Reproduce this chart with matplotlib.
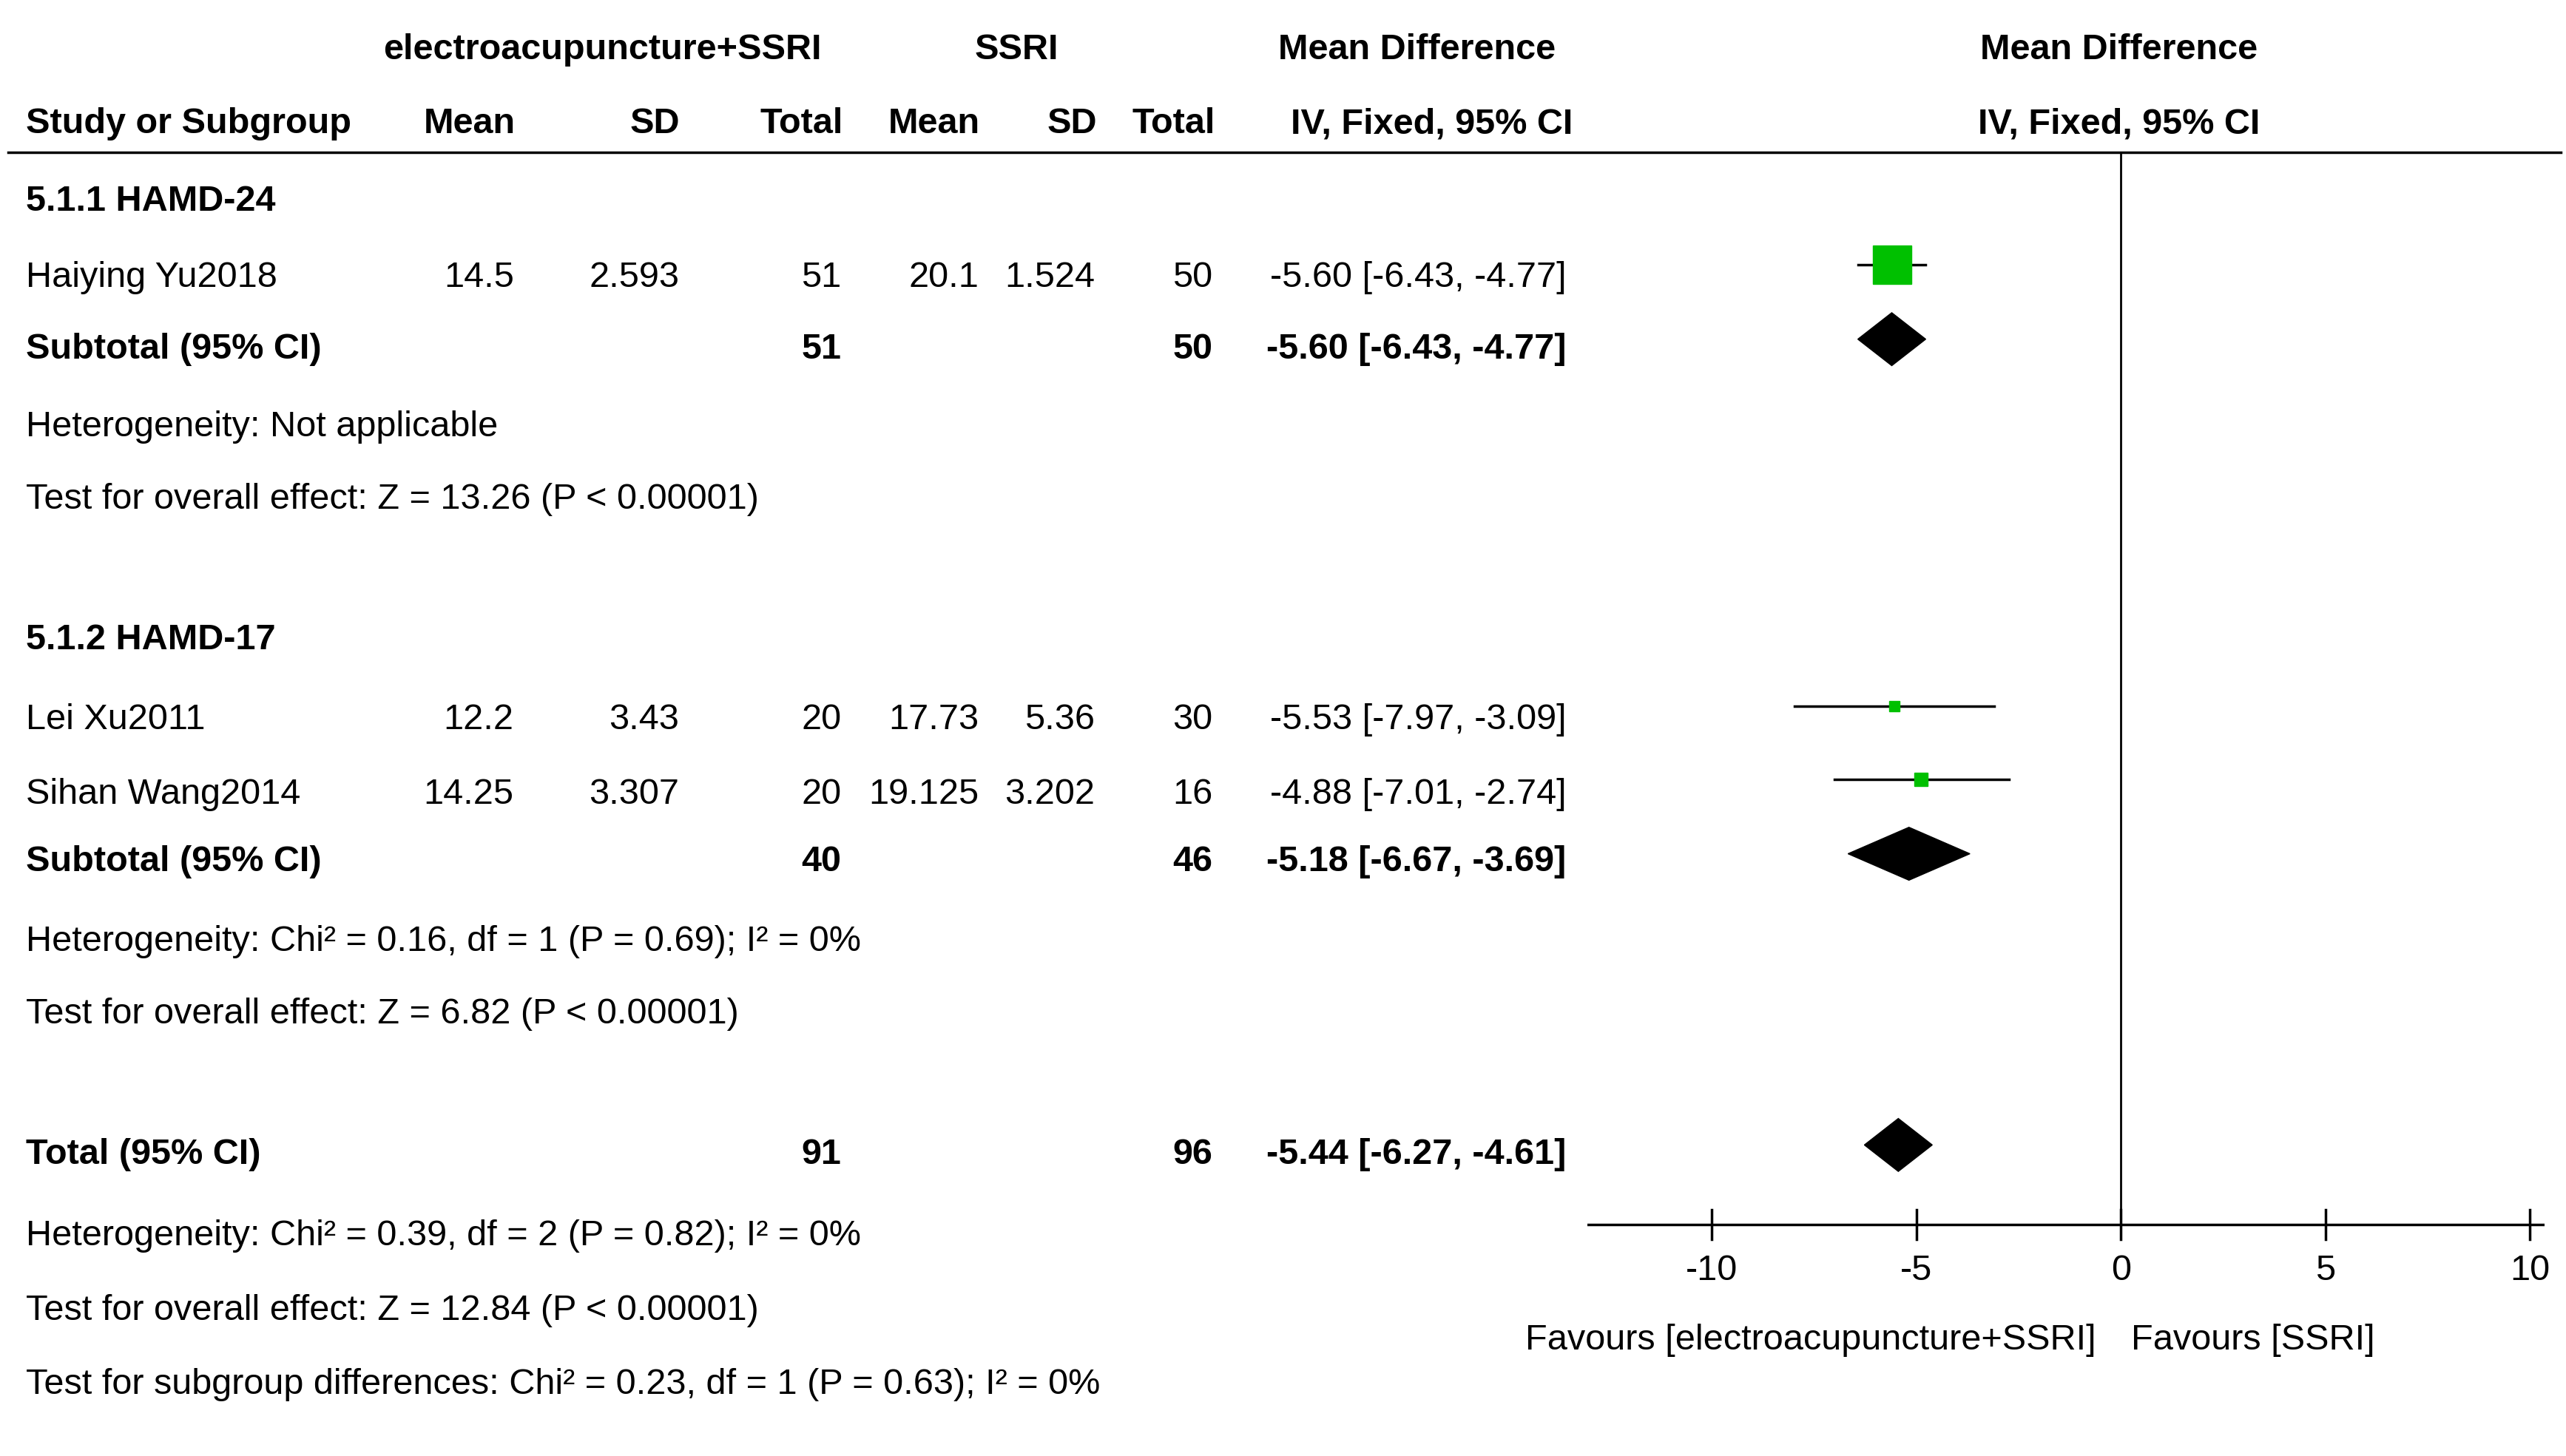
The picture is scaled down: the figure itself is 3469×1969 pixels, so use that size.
import matplotlib.pyplot as plt
from matplotlib import font_manager

# data
studies = ["Haiying Yu2018", "Lei Xu2011", "Sihan Wang2014"]
exp_mean = ["14.5", "12.2", "14.25"]
exp_sd = ["2.593", "3.43", "3.307"]
exp_n = ["51", "20", "20"]
ctl_mean = ["20.1", "17.73", "19.125"]
ctl_sd = ["1.524", "5.36", "3.202"]
ctl_n = ["50", "30", "16"]
md = [-5.60, -5.53, -4.88]
lo = [-6.43, -7.97, -7.01]
hi = [-4.77, -3.09, -2.74]
weight_size = [38, 9.5, 13]

sub_md = [-5.60, -5.18]
sub_lo = [-6.43, -6.67]
sub_hi = [-4.77, -3.69]
sub_exp_n = ["51", "40"]
sub_ctl_n = ["50", "46"]
tot_md, tot_lo, tot_hi = -5.44, -6.27, -4.61
ticks = [-10, -5, 0, 5, 10]

W, H = 1568, 880  # layout units (reference pixels)
fams = [f.name for f in font_manager.fontManager.ttflist]
narrow = "Liberation Sans Narrow" in fams
font = ["Liberation Sans Narrow", "DejaVu Sans"] if narrow else ["Liberation Sans", "DejaVu Sans"]
plt.rcParams["font.family"] = font
fs = 44 if narrow else 35

fig = plt.figure(figsize=(34.69, 19.69), dpi=100)
ax = fig.add_axes([0, 0, 1, 1])
ax.set_xlim(0, W)
ax.set_ylim(H, 0)
ax.axis("off")


def t(x, y, s, ha="left", bold=False):
    ax.text(x, y, s, ha=ha, va="center", fontsize=fs, fontweight="bold" if bold else "normal")


# headers
t(368, 30, "electroacupuncture+SSRI", "center", True)
t(621, 30, "SSRI", "center", True)
t(866, 30, "Mean Difference", "center", True)
t(1295, 30, "Mean Difference", "center", True)
t(16, 75, "Study or Subgroup", bold=True)
for x, s in [(287, "Mean"), (400, "SD"), (490, "Total"), (571, "Mean"), (655, "SD"), (717, "Total"),
             (875, "IV, Fixed, 95% CI"), (1295, "IV, Fixed, 95% CI")]:
    t(x, 75, s, "center", True)
ax.plot([5, 1565], [92, 92], color="black", lw=2.5)

study_y = [168, 435, 480]
for i, y in enumerate(study_y):
    t(16, y, studies[i])
    t(314, y, exp_mean[i], "right")
    t(415, y, exp_sd[i], "right")
    t(514, y, exp_n[i], "right")
    t(598, y, ctl_mean[i], "right")
    t(669, y, ctl_sd[i], "right")
    t(741, y, ctl_n[i], "right")
    t(957, y, f"{md[i]:.2f} [{lo[i]:.2f}, {hi[i]:.2f}]", "right")

t(16, 122, "5.1.1 HAMD-24", bold=True)
t(16, 387, "5.1.2 HAMD-17", bold=True)
sub_y = [211, 521]
for j, y in enumerate(sub_y):
    t(16, y, "Subtotal (95% CI)", bold=True)
    t(514, y, sub_exp_n[j], "right", True)
    t(741, y, sub_ctl_n[j], "right", True)
    t(957, y, f"{sub_md[j]:.2f} [{sub_lo[j]:.2f}, {sub_hi[j]:.2f}]", "right", True)
t(16, 258, "Heterogeneity: Not applicable")
t(16, 302, "Test for overall effect: Z = 13.26 (P < 0.00001)")
t(16, 569, "Heterogeneity: Chi² = 0.16, df = 1 (P = 0.69); I² = 0%")
t(16, 613, "Test for overall effect: Z = 6.82 (P < 0.00001)")
t(16, 698, "Total (95% CI)", bold=True)
t(514, 698, "91", "right", True)
t(741, 698, "96", "right", True)
t(957, 698, f"{tot_md:.2f} [{tot_lo:.2f}, {tot_hi:.2f}]", "right", True)
t(16, 747, "Heterogeneity: Chi² = 0.39, df = 2 (P = 0.82); I² = 0%")
t(16, 792, "Test for overall effect: Z = 12.84 (P < 0.00001)")
t(16, 837, "Test for subgroup differences: Chi² = 0.23, df = 1 (P = 0.63); I² = 0%")

# forest panel
x0, x1, zero, s = 970, 1555, 1296, 25.0
fx = fig.add_axes([x0 / W, 0, (x1 - x0) / W, 1])
fx.set_xlim((x0 - zero) / s, (x1 - zero) / s)
fx.set_ylim(H, 0)
fx.axis("off")

mark_y = [160, 427, 471]
for i, y in enumerate(mark_y):
    fx.plot([lo[i], hi[i]], [y, y], color="black", lw=2.5)
    fx.plot(md[i], y, marker="s", color="#00c000", markersize=weight_size[i], mec="#00c000")

def diamond(m, l, h, y, hh=16):
    fx.fill([l, m, h, m], [y, y - hh, y, y + hh], color="black")

diamond(sub_md[0], sub_lo[0], sub_hi[0], 205)
diamond(sub_md[1], sub_lo[1], sub_hi[1], 516)
diamond(tot_md, tot_lo, tot_hi, 692)

fx.plot([0, 0], [92, 740], color="black", lw=2)
xl = fx.get_xlim()
fx.plot(xl, [740, 740], color="black", lw=2.5)
for tk in ticks:
    fx.plot([tk, tk], [731, 749], color="black", lw=2.5)
    fx.text(tk, 768, str(tk), ha="center", va="center", fontsize=fs)
fx.text(-0.6, 810, "Favours [electroacupuncture+SSRI]", ha="right", va="center", fontsize=fs)
fx.text(0.25, 810, "Favours [SSRI]", ha="left", va="center", fontsize=fs)

fig.savefig("out.png", dpi=100, facecolor="white")
